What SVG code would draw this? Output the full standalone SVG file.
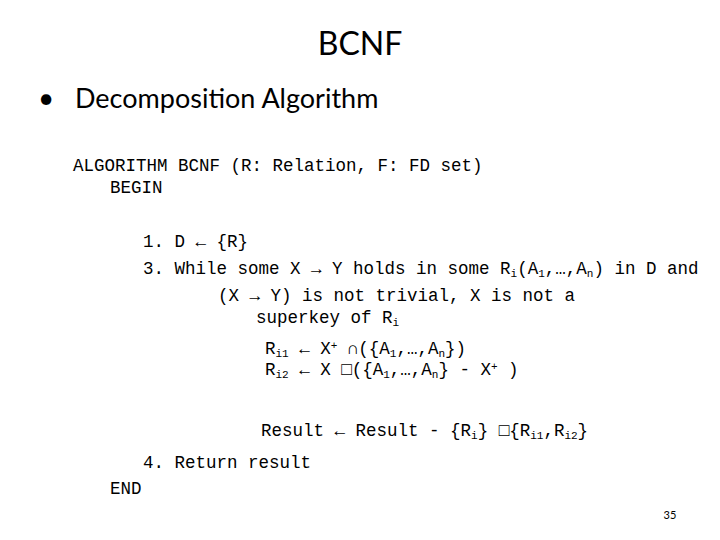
<svg xmlns="http://www.w3.org/2000/svg" width="720" height="540" viewBox="0 0 720 540">
<style>
.t{font-family:Lato,"Liberation Sans",Arial,sans-serif;fill:#000}
.m{font-family:"Liberation Mono","DejaVu Sans Mono","Courier New",monospace;font-size:17.5px;fill:#000;white-space:pre}
.s{font-size:11px}
</style>
<rect width="720" height="540" fill="#fff"/>
<text class="t" x="360" y="55" font-size="32" text-anchor="middle">BCNF</text>
<text class="t" x="38" y="108" font-size="28">•</text>
<text class="t" x="75" y="108" font-size="27">Decomposition Algorithm</text>
<g xml:space="preserve">
<text class="m" x="73" y="171">ALGORITHM BCNF (R: Relation, F: FD set)</text>
<text class="m" x="110" y="193">BEGIN</text>
<text class="m" x="143" y="247">1. D ← {R}</text>
<text class="m" x="143" y="274">3. While some X → Y holds in some R<tspan class="s" dy="3">i</tspan><tspan dy="-3">(A</tspan><tspan class="s" dy="3">1</tspan><tspan dy="-3">,…,A</tspan><tspan class="s" dy="3">n</tspan><tspan dy="-3">) in D and</tspan></text>
<text class="m" x="218" y="301">(X → Y) is not trivial, X is not a</text>
<text class="m" x="256" y="323">superkey of R<tspan class="s" dy="3">i</tspan></text>
<text class="m" x="265" y="354">R<tspan class="s" dy="3">i1</tspan><tspan dy="-3"> ← X</tspan><tspan class="s" dy="-5">+</tspan><tspan dy="5"> ∩({A</tspan><tspan class="s" dy="3">1</tspan><tspan dy="-3">,…,A</tspan><tspan class="s" dy="3">n</tspan><tspan dy="-3">})</tspan></text>
<text class="m" x="265" y="375">R<tspan class="s" dy="3">i2</tspan><tspan dy="-3"> ← X □({A</tspan><tspan class="s" dy="3">1</tspan><tspan dy="-3">,…,A</tspan><tspan class="s" dy="3">n</tspan><tspan dy="-3">} - X</tspan><tspan class="s" dy="-5">+</tspan><tspan dy="5"> )</tspan></text>
<text class="m" x="261" y="436">Result ← Result - {R<tspan class="s" dy="3">i</tspan><tspan dy="-3">} □{R</tspan><tspan class="s" dy="3">i1</tspan><tspan dy="-3">,R</tspan><tspan class="s" dy="3">i2</tspan><tspan dy="-3">}</tspan></text>
<text class="m" x="143" y="468">4. Return result</text>
<text class="m" x="110" y="494">END</text>
</g>
<text class="t" x="670" y="519" font-size="11" text-anchor="middle">35</text>
</svg>
